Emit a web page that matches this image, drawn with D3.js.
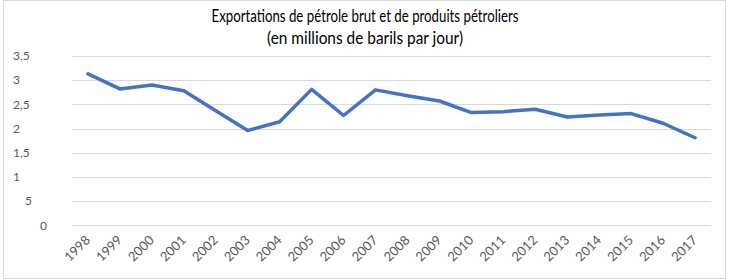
<!DOCTYPE html>
<html>
<head>
<meta charset="utf-8">
<script src="https://cdn.jsdelivr.net/npm/d3@7"></script>
<style>
  body { margin: 0; background: #fff; }
  svg { display: block; }
</style>
</head>
<body>
<svg id="chart" width="731" height="280"></svg>
<script>
// donnees
var annees = ["1998","1999","2000","2001","2002","2003","2004","2005","2006","2007",
              "2008","2009","2010","2011","2012","2013","2014","2015","2016","2017"];
var exportations = [3.13, 2.82, 2.90, 2.78, 2.37, 1.96, 2.14, 2.81, 2.27, 2.80,
                    2.68, 2.57, 2.33, 2.35, 2.40, 2.24, 2.28, 2.31, 2.11, 1.81];
var yTicks = [0, 0.5, 1, 1.5, 2, 2.5, 3, 3.5];
var yLabels = ["0", "5", "1", "1,5", "2", "2,5", "3", "3,5"];
var titre = ["Exportations de pétrole brut et de produits pétroliers",
             "(en millions de barils par jour)"];

const width = 731;
const height = 280;

var svg = d3.select("#chart");

// cadre
svg.append("rect")
    .attr("x", 3.5).attr("y", 0.5)
    .attr("width", 722).attr("height", 278)
    .attr("fill", "#fff")
    .attr("stroke", "#d9d9d9");

var x = d3.scalePoint()
    .domain(annees)
    .range([72, 711])
    .padding(0.5);

var y = d3.scaleLinear()
    .domain([0, 3.5])
    .range([225.3, 56]);

// grille
svg.append("g")
    .selectAll("line")
    .data(yTicks)
    .join("line")
      .attr("x1", 72).attr("x2", 711)
      .attr("y1", d => Math.round(y(d)) + 0.5)
      .attr("y2", d => Math.round(y(d)) + 0.5)
      .attr("stroke", "#d9d9d9")
      .attr("stroke-width", 1);

// etiquettes axe y (alignement bizarre comme l'original)
var yDecal = {"0": 27, "5": 12};
svg.append("g")
    .attr("font-family", "Lato, 'Open Sans', sans-serif")
    .attr("font-size", 12)
    .attr("fill", "#595959")
  .selectAll("text")
    .data(yTicks)
    .join("text")
      .attr("x", (d, i) => 13 + (yDecal[yLabels[i]] || 0))
      .attr("y", d => y(d))
      .attr("dy", "0.35em")
      .text((d, i) => yLabels[i]);

// etiquettes axe x
svg.append("g")
    .attr("font-family", "Lato, 'Open Sans', sans-serif")
    .attr("font-size", 13)
    .attr("fill", "#595959")
  .selectAll("text")
    .data(annees)
    .join("text")
      .attr("text-anchor", "end")
      .attr("transform", d => `translate(${x(d) + 3},${241}) rotate(-45)`)
      .text(d => d);

// ligne
var ligne = d3.line()
    .x((d, i) => x(annees[i]))
    .y(d => y(d));

svg.append("path")
    .datum(exportations)
    .attr("fill", "none")
    .attr("stroke", "#4472c4")
    .attr("stroke-width", 3.5)
    .attr("stroke-linejoin", "round")
    .attr("stroke-linecap", "round")
    .attr("d", ligne);

// titre
svg.append("g")
    .attr("font-family", "Lato, 'Open Sans', sans-serif")
    .attr("font-size", 16.5)
    .attr("fill", "#000")
    .attr("text-anchor", "middle")
  .selectAll("text")
    .data(titre)
    .join("text")
      .attr("x", 365)
      .attr("y", (d, i) => 21.5 + i * 22)
      .attr("textLength", (d, i) => i == 0 ? 307 : 196)
      .attr("lengthAdjust", "spacingAndGlyphs")
      .text(d => d);
</script>
</body>
</html>
